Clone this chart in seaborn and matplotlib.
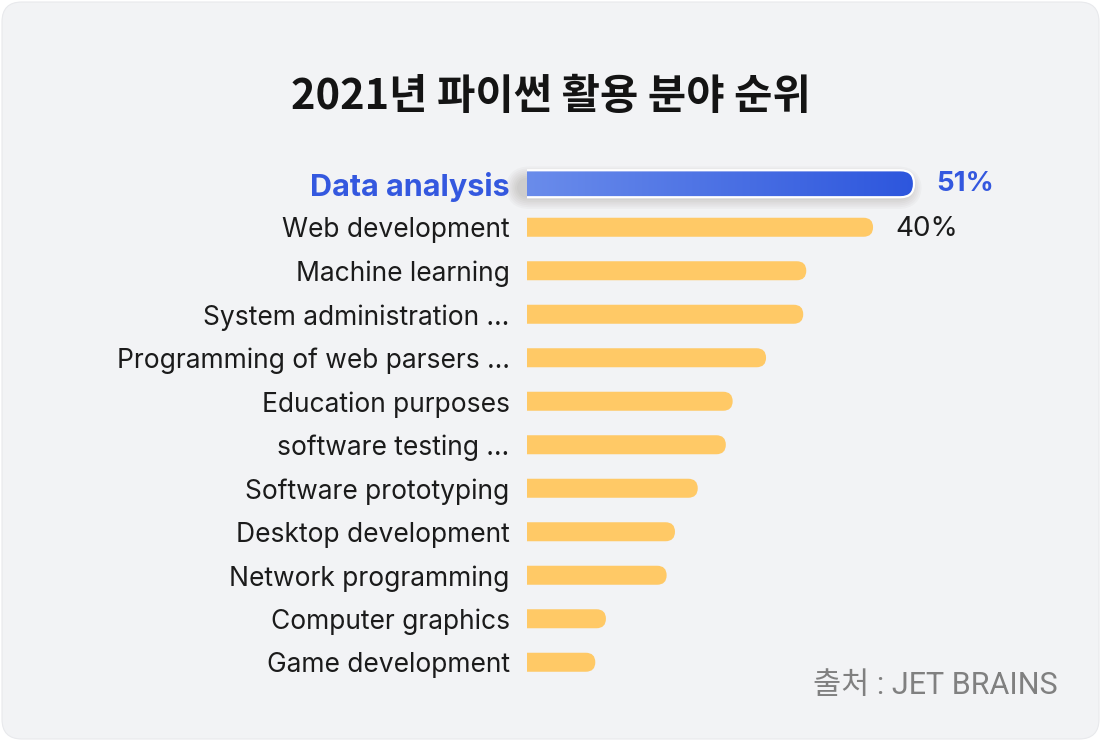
import numpy as np
import pandas as pd
import seaborn as sns
import matplotlib.pyplot as plt
from matplotlib.patches import FancyBboxPatch
from matplotlib.colors import LinearSegmentedColormap

# values (bar lengths); only two bars carry a printed label
categories = [
    "Data analysis",
    "Web development",
    "Machine learning",
    "System administration …",
    "Programming of web parsers …",
    "Education purposes",
    "software testing …",
    "Software prototyping",
    "Desktop development",
    "Network programming",
    "Computer graphics",
    "Game development",
]
shares = [51, 45.6, 36.8, 36.4, 31.5, 27.1, 26.2, 22.5, 19.5, 18.4, 10.4, 9.0]
value_labels = ["51%", "40%"]

title = "2021년 파이썬 활용 분야 순위"
source = "출처 : JET BRAINS"

YELLOW = "#ffc966"
BLUE = "#3458df"
CARD = "#f2f3f5"

df = pd.DataFrame({"category": categories, "share": shares})

sns.set_theme(style="white")
plt.rcParams["font.family"] = ["Inter", "Noto Sans CJK KR", "DejaVu Sans"]

W, H = 1101, 741
fig = plt.figure(figsize=(W / 100, H / 100), dpi=100)
fig.patch.set_facecolor("white")

# rounded grey card behind everything
card = FancyBboxPatch((2 / W, 2 / H), 1097 / W, 737 / H,
                      boxstyle="round,pad=0,rounding_size=0.018",
                      mutation_aspect=W / H, transform=fig.transFigure,
                      facecolor=CARD, edgecolor="#e8e9ec", lw=0.8, zorder=0)
fig.add_artist(card)

xmax = 62.5
ax = fig.add_axes([527 / W, 1 - 684 / H, 474.3 / W, 522 / H])
ax.set_facecolor("none")

sns.barplot(data=df, x="share", y="category", ax=ax, color=YELLOW,
            saturation=1, width=0.437, orient="h")

ax.set_xlim(0, xmax)
ax.set_ylim(len(categories) - 0.5, -0.5)

bb = ax.get_window_extent()
px_x = bb.width / xmax
px_y = bb.height / len(categories)
aspect = px_x / px_y

for i, bar in enumerate(ax.patches[:len(categories)]):
    w = bar.get_width()
    h = bar.get_height()
    if i == 0:
        h = 0.62
    y0 = i - h / 2
    r = (h * px_y / 2) / px_x
    bar.set_visible(False)
    rounded = FancyBboxPatch((-r, y0), w + r, h,
                             boxstyle=f"round,pad=0,rounding_size={r}",
                             mutation_aspect=aspect, lw=0, zorder=3)
    if i == 0:
        # soft shadow, mostly below the bar
        for k in range(7):
            pad = (k * 1.8) / px_x
            sh = FancyBboxPatch((-r + 3 / px_x, y0 + 7 / px_y), w + r - 6 / px_x, h - 6 / px_y,
                                boxstyle=f"round,pad={pad},rounding_size={r + pad}",
                                mutation_aspect=aspect, lw=0, facecolor="#3a3020",
                                alpha=0.028, zorder=1, clip_on=False)
            ax.add_patch(sh)
        rounded.set_facecolor("none")
        rounded.set_edgecolor("white")
        rounded.set_linewidth(1.6)
        rounded.set_zorder(4)
        ax.add_patch(rounded)
        cmap = LinearSegmentedColormap.from_list("blue", ["#6a8ceb", "#2d56dd"])
        grad = np.linspace(0, 1, 256).reshape(1, -1)
        img = ax.imshow(grad, cmap=cmap, extent=[0, w, y0 + h, y0],
                        aspect="auto", zorder=3, interpolation="bicubic")
        img.set_clip_path(rounded)
    else:
        rounded.set_facecolor(YELLOW)
        ax.add_patch(rounded)

ax.set_xlim(0, xmax)
ax.set_ylim(len(categories) - 0.5, -0.5)

# value labels
for i, lab in enumerate(value_labels):
    off = 22 / px_x
    if i == 0:
        ax.text(shares[i] + off, i, lab, va="center", ha="left",
                fontsize=20, fontweight="bold", color=BLUE)
    else:
        ax.text(shares[i] + off, i + 0.05, lab, va="center", ha="left",
                fontsize=20, color="#1b1b1b")

ax.set_xticks([])
ax.set_xlabel("")
ax.set_ylabel("")
ax.tick_params(axis="y", length=0, pad=12.5, labelsize=19, labelcolor="#1b1b1b")
ticklabels = ax.get_yticklabels()
ticklabels[0].set_color(BLUE)
ticklabels[0].set_fontweight("bold")
ticklabels[0].set_fontsize(22)
sns.despine(ax=ax, left=True, bottom=True)

fig.text(551 / W, 1 - 97 / H, title, ha="center", va="center",
         fontsize=30, fontweight="bold", color="#141414",
         family=["Noto Sans CJK KR", "DejaVu Sans"])
fig.text(1058 / W, 1 - 686 / H, source, ha="right", va="center",
         fontsize=22, color="#808080",
         family=["Roboto", "Noto Sans CJK KR", "DejaVu Sans"])

fig.savefig("out.png", dpi=100)
